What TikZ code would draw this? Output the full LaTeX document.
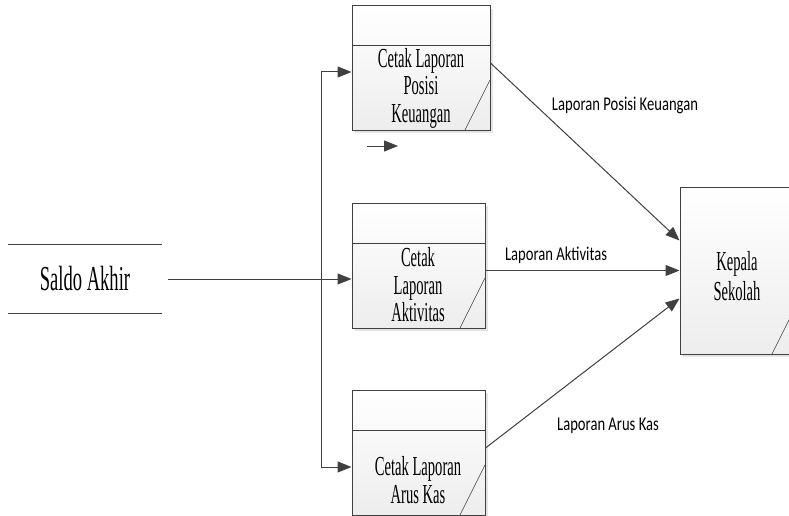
\documentclass[tikz,border=0pt]{standalone}
\usepackage{fontspec}
\newfontfamily\serifcond{Liberation Serif}[FakeStretch=0.53]
\newfontfamily\sanscond{Carlito}[FakeStretch=0.75]
\usetikzlibrary{positioning,arrows.meta,shadows}

\tikzset{
	garis/.style={draw=black!75, line width=1pt},
	panah/.style={garis, -{Triangle[length=14pt,width=11pt]}},
	kotak/.style={garis, inner sep=0pt, top color=white, bottom color=gray!14,
		drop shadow={shadow xshift=3pt, shadow yshift=-3pt, fill=gray!40, opacity=0.5}},
	proses/.style={kotak, path picture={
		\draw[garis] ([yshift=-40pt]path picture bounding box.north west) -- ([yshift=-40pt]path picture bounding box.north east);
		\draw[black!75, line width=0.6pt] ([xshift=-25pt]path picture bounding box.south east) -- ([yshift=50pt]path picture bounding box.south east);
	}},
	entitas/.style={kotak, path picture={
		\draw[black!75, line width=0.6pt] ([xshift=-25pt]path picture bounding box.south east) -- ([yshift=50pt]path picture bounding box.south east);
	}},
	teks/.style={align=center, inner sep=0pt, font=\serifcond\fontsize{27.5}{27.5}\selectfont},
	lbl/.style={inner sep=0pt, font=\sanscond\fontsize{19.5}{21}\selectfont}
}

\begin{document}
\begin{tikzpicture}[x=1pt, y=-1pt]
	\clip (0,0) rectangle (789,516);
	\fill[white] (0,0) rectangle (789,516);
	% sumber data
	\node[minimum width=154pt, minimum height=68pt, inner sep=0pt, font=\serifcond\fontsize{35}{36}\selectfont] (saldo) at (85,279) {Saldo Akhir};
	\draw[garis] (saldo.north west) -- (saldo.north east);
	\draw[garis] (saldo.south west) -- (saldo.south east);
	% proses cetak
	\node[proses, minimum width=138pt, minimum height=124pt] (p1) at (421,68) {};
	\node[proses, minimum width=133pt, minimum height=125pt] (p2) at (418.5,265.5) {};
	\node[proses, minimum width=133pt, minimum height=125pt] (p3) at (418.5,452.5) {};
	\node[teks] (t1) at (421,88) {Cetak Laporan\\Posisi\\Keuangan};
	\node[teks] (t2) at (418,285) {Cetak\\Laporan\\Aktivitas};
	\node[teks] (t3) at (418,480) {Cetak Laporan\\Arus Kas};
	% penerima
	\node[entitas, minimum width=117pt, minimum height=167pt] (kepala) at (738.5,270.5) {};
	\node[teks, text depth=0pt] (t4) at (737,276) {Kepala\\[2pt]Sekolah};
	% aliran masuk
	\coordinate (cabang) at (321,279);
	\draw[panah] ([xshift=6pt]saldo.east) -- (saldo.east -| p2.west);
	\draw[panah] (cabang) |- ([yshift=-4pt]p1.west);
	\draw[panah] (cabang) |- ([yshift=-14.5pt]p3.west);
	\coordinate (s1) at (367,146);
	\coordinate (s2) at (398,146);
	\draw[panah] (s1) -- (s2);
	% aliran keluar
	\draw[panah] ([yshift=5pt]p1.east) -- ([yshift=30pt]kepala.west);
	\draw[panah] ([yshift=-5pt]p2.east) -- (kepala.west);
	\draw[panah] ([yshift=4.5pt]p3.east) -- ([yshift=-28pt]kepala.west);
	\node[lbl] (l1) at (625,105) {Laporan Posisi Keuangan};
	\node[lbl] (l2) at (556,255) {Laporan Aktivitas};
	\node[lbl] (l3) at (608,426) {Laporan Arus Kas};
\end{tikzpicture}
\end{document}
